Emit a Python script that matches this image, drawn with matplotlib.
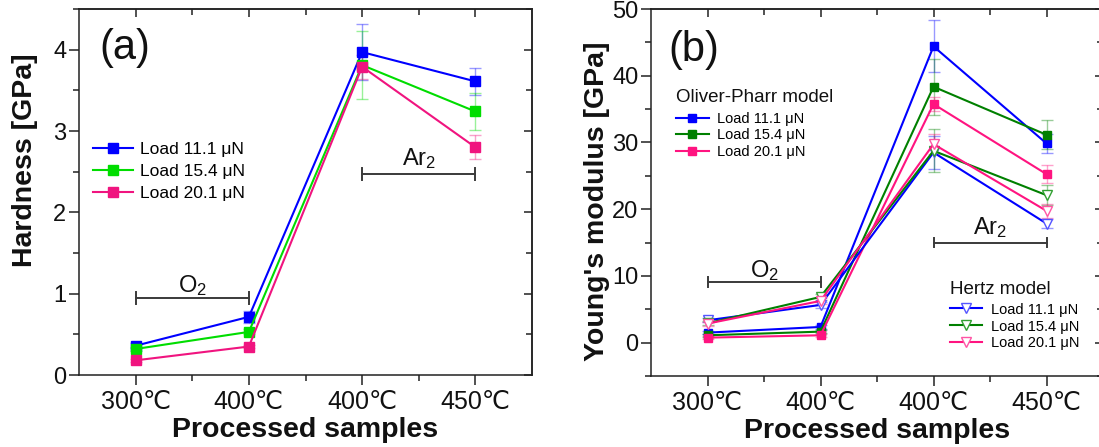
import matplotlib
matplotlib.use("Agg")
import matplotlib.pyplot as plt
from matplotlib.ticker import MultipleLocator, FixedLocator, NullFormatter

plt.rcParams["font.family"] = ["Liberation Sans", "DejaVu Sans"]
plt.rcParams["mathtext.fontset"] = "custom"
plt.rcParams["mathtext.rm"] = "Liberation Sans"
plt.rcParams["axes.linewidth"] = 1.1

# ---- data -------------------------------------------------------------
samples = ["300℃", "400℃", "400℃", "450℃"]
loads = ["Load 11.1 μN", "Load 15.4 μN", "Load 20.1 μN"]

hardness_111 = [0.36, 0.715, 3.97, 3.61]
hardness_154 = [0.32, 0.53, 3.81, 3.24]
hardness_201 = [0.18, 0.35, 3.79, 2.80]
hardness_err_111 = [0.03, 0.07, 0.34, 0.17]
hardness_err_154 = [0.03, 0.03, 0.42, 0.23]
hardness_err_201 = [0.02, 0.02, 0.15, 0.15]

op_111 = [1.5, 2.35, 44.4, 29.85]
op_154 = [1.1, 1.65, 38.35, 31.15]
op_201 = [0.75, 1.1, 35.75, 25.25]
op_err_111 = [0.2, 0.3, 3.9, 1.4]
op_err_154 = [0.2, 0.2, 4.2, 2.2]
op_err_201 = [0.2, 0.2, 1.0, 1.4]

hz_111 = [3.35, 5.65, 28.5, 17.85]
hz_154 = [2.9, 6.85, 28.75, 22.1]
hz_201 = [2.85, 6.25, 29.75, 19.75]
hz_err_111 = [0.3, 0.5, 2.5, 0.7]
hz_err_154 = [0.3, 0.4, 3.2, 1.5]
hz_err_201 = [0.3, 0.4, 1.5, 1.0]

x = [1, 2, 3, 4]

W, H = 1099, 447
fig = plt.figure(figsize=(W / 100, H / 100), dpi=100)


def px_axes(left, top, right, bottom):
    return fig.add_axes([left / W, 1 - bottom / H, (right - left) / W, (bottom - top) / H])


ax_a = px_axes(79, 9, 532, 375)
ax_b = px_axes(651, 9, 1103, 376)

TXT = "#111111"
SPINE = "#222222"


def style_axes(ax, ymaj, ymin, ylim):
    ax.set_xlim(0.5, 4.5)
    ax.set_ylim(*ylim)
    ax.xaxis.set_major_locator(FixedLocator(x))
    ax.xaxis.set_minor_locator(FixedLocator([1.5, 2.5, 3.5]))
    ax.set_xticklabels(samples)
    ax.yaxis.set_major_locator(MultipleLocator(ymaj))
    ax.yaxis.set_minor_locator(MultipleLocator(ymin))
    for s in ax.spines.values():
        s.set_color(SPINE)
    ax.tick_params(which="major", direction="out", length=7, width=1.1, color=SPINE,
                   labelcolor=TXT)
    ax.tick_params(which="minor", direction="out", length=4, width=1.1, color=SPINE)
    ax.tick_params(axis="x", which="major", labelsize=18, pad=4)
    ax.tick_params(axis="y", which="major", labelsize=17, pad=2)
    # mirrored inward ticks on the top and right sides
    top = ax.secondary_xaxis("top")
    top.xaxis.set_major_locator(FixedLocator(x))
    top.xaxis.set_minor_locator(FixedLocator([1.5, 2.5, 3.5]))
    top.xaxis.set_major_formatter(NullFormatter())
    top.tick_params(which="major", direction="in", length=6, width=1.1, color=SPINE)
    top.tick_params(which="minor", direction="in", length=4, width=1.1, color=SPINE)
    top.spines["top"].set_color(SPINE)
    right = ax.secondary_yaxis("right")
    right.yaxis.set_major_locator(MultipleLocator(ymaj))
    right.yaxis.set_minor_locator(MultipleLocator(ymin))
    right.yaxis.set_major_formatter(NullFormatter())
    right.tick_params(which="major", direction="in", length=6, width=1.1, color=SPINE)
    right.tick_params(which="minor", direction="in", length=4, width=1.1, color=SPINE)
    right.spines["right"].set_color(SPINE)


def bracket(ax, x0, x1, y, cap, label, ty):
    c = "#3a3a3a"
    ax.plot([x0, x1], [y, y], color=c, lw=1.4, zorder=2)
    ax.plot([x0, x0], [y - cap, y + cap], color=c, lw=1.4, zorder=2)
    ax.plot([x1, x1], [y - cap, y + cap], color=c, lw=1.4, zorder=2)
    ax.text((x0 + x1) / 2, ty, label, ha="center", va="center", fontsize=17, color=TXT)


def axis_labels(ax, ylabel, ypos):
    ax.set_ylabel(ylabel, fontsize=20.5, fontweight="bold", color=TXT, va="center")
    ax.yaxis.set_label_coords(-0.119, ypos)
    ax.set_xlabel("Processed samples", fontsize=20.5, fontweight="bold", color=TXT,
                  va="center")
    ax.xaxis.set_label_coords(0.5, -0.15)


# ---- (a) hardness -----------------------------------------------------
cols_a = ["#0000FF", "#00DD00", "#F0147F"]
series_a = [(hardness_111, hardness_err_111), (hardness_154, hardness_err_154),
            (hardness_201, hardness_err_201)]
handles_a = []
for (vals, errs), c, lab in zip(series_a, cols_a, loads):
    ax_a.errorbar(x, vals, yerr=errs, fmt="none", ecolor=c, alpha=0.4, elinewidth=1.0,
                  capsize=4, capthick=1.0, zorder=3)
    ln, = ax_a.plot(x, vals, color=c, lw=1.5, marker="s", ms=6.5, mfc=c, mec=c,
                    label=lab, zorder=4)
    handles_a.append(ln)

style_axes(ax_a, 1, 0.5, (0, 4.5))
bracket(ax_a, 1, 2, 0.945, 0.07, r"$\mathregular{O_2}$", 1.1)
bracket(ax_a, 3, 4, 2.47, 0.07, r"$\mathregular{Ar_2}$", 2.66)
ax_a.text(0.046, 0.893, "(a)", transform=ax_a.transAxes, fontsize=30, ha="left",
          va="center", color=TXT)
axis_labels(ax_a, "Hardness [GPa]", 0.587)
ax_a.legend(handles=handles_a, loc="upper left", bbox_to_anchor=(0.031, 0.638),
            frameon=False, fontsize=12.5, borderpad=0, borderaxespad=0,
            handlelength=2.3, handletextpad=0.4, labelspacing=0.41)

# ---- (b) Young's modulus ----------------------------------------------
cols_b = ["#0000FF", "#008000", "#FF1480"]
edge_hz = ["#5555FF", "#33A033", "#FF55A5"]
series_op = [(op_111, op_err_111), (op_154, op_err_154), (op_201, op_err_201)]
series_hz = [(hz_111, hz_err_111), (hz_154, hz_err_154), (hz_201, hz_err_201)]
handles_op, handles_hz = [], []
for (vals, errs), c, lab in zip(series_op, cols_b, loads):
    ax_b.errorbar(x, vals, yerr=errs, fmt="none", ecolor=c, alpha=0.4, elinewidth=1.0,
                  capsize=4, capthick=1.0, zorder=3)
    ln, = ax_b.plot(x, vals, color=c, lw=1.5, marker="s", ms=6, mfc=c, mec=c,
                    label=lab, zorder=4)
    handles_op.append(ln)
for (vals, errs), c, ec, lab in zip(series_hz, cols_b, edge_hz, loads):
    ax_b.errorbar(x, vals, yerr=errs, fmt="none", ecolor=c, alpha=0.4, elinewidth=1.0,
                  capsize=4, capthick=1.0, zorder=3)
    ln, = ax_b.plot(x, vals, color=c, lw=1.5, marker="v", ms=7.5, mfc="white", mec=ec,
                    mew=1.0, label=lab, zorder=5)
    handles_hz.append(ln)

style_axes(ax_b, 10, 5, (-5, 50))
bracket(ax_b, 1, 2, 9.1, 0.7, r"$\mathregular{O_2}$", 10.75)
bracket(ax_b, 3, 4, 15.0, 0.7, r"$\mathregular{Ar_2}$", 17.25)
ax_b.text(0.038, 0.888, "(b)", transform=ax_b.transAxes, fontsize=30, ha="left",
          va="center", color=TXT)
axis_labels(ax_b, "Young's modulus [GPa]", 0.477)

ax_b.text(0.055, 0.7575, "Oliver-Pharr model", transform=ax_b.transAxes, fontsize=13.5,
          ha="left", va="center", color=TXT)
leg_op = ax_b.legend(handles=handles_op, loc="upper left", bbox_to_anchor=(0.055, 0.720),
                     frameon=False, fontsize=10.5, borderpad=0, borderaxespad=0,
                     handlelength=2.26, handletextpad=0.55, labelspacing=0.17)
ax_b.add_artist(leg_op)
ax_b.text(0.661, 0.237, "Hertz model", transform=ax_b.transAxes, fontsize=13.5,
          ha="left", va="center", color=TXT)
ax_b.legend(handles=handles_hz, loc="upper left", bbox_to_anchor=(0.661, 0.200),
            frameon=False, fontsize=10.5, borderpad=0, borderaxespad=0,
            handlelength=2.2, handletextpad=0.6, labelspacing=0.2)

fig.savefig("out.png", dpi=100)
